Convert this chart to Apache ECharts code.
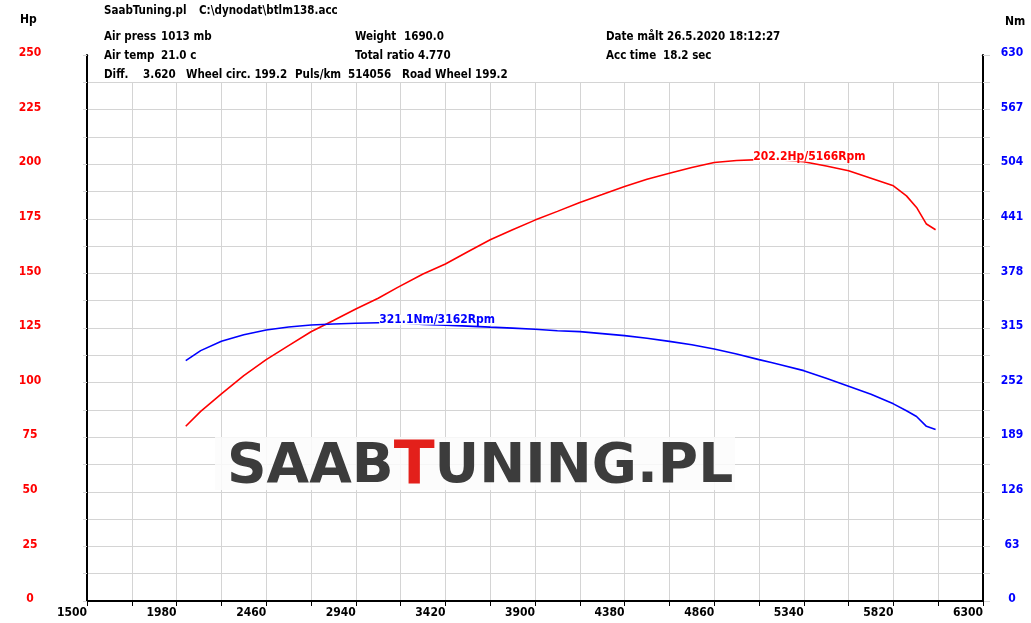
<!DOCTYPE html>
<html>
<head>
<meta charset="utf-8">
<title>SaabTuning dyno</title>
<script src="https://cdn.jsdelivr.net/npm/echarts@6/dist/echarts.min.js"></script>
<style>
  html, body { margin: 0; padding: 0; background: #fff; }
  #chart { width: 1031px; height: 623px; }
</style>
</head>
<body>
<div id="chart"></div>
<script>
  // rpm samples shared by both curves
  const rpm = [2029, 2109, 2220, 2340, 2460, 2580, 2700, 2820, 2940, 3060, 3162, 3300, 3420, 3540, 3660, 3780, 3900,
    4020, 4140, 4260, 4380, 4500, 4620, 4740, 4860, 4980, 5100, 5166, 5220, 5340, 5460, 5580, 5700, 5820,
    5890, 5944, 5997, 6046]
  const hp = [80.0, 86.8, 94.8, 103.2, 110.5, 116.9, 123.3, 128.4, 133.7, 138.6, 143.5, 149.7, 154.3, 159.9, 165.4, 170.0, 174.4,
    178.4, 182.5, 186.1, 189.8, 193.1, 195.9, 198.5, 200.8, 201.7, 202.1, 202.2, 202.0, 201.1, 199.2, 197.0, 193.6, 190.1,
    185.5, 180.2, 172.6, 170.0]
  const nm = [277.4, 288.9, 299.6, 307.3, 312.7, 316.2, 318.5, 319.6, 320.4, 321.0, 321.1, 319.0, 318.3, 317.2, 316.0, 314.9, 313.6,
    311.9, 310.8, 308.5, 306.2, 303.2, 299.6, 295.6, 290.8, 285.0, 278.5, 275.3, 272.4, 265.8, 257.0, 247.8, 238.5, 227.5,
    219.5, 212.9, 201.5, 197.8]

  const hpPeak = [5166, 202.2]
  const nmPeak = [3162, 321.1]

  const headerLines = [
    ['SaabTuning.pl', 104, 11], ['C:\\dynodat\\btlm138.acc', 199, 11],
    ['Air press', 104, 37], ['1013 mb', 161, 37], ['Weight', 355, 37], ['1690.0', 404, 37], ['Date målt 26.5.2020 18:12:27', 606, 37],
    ['Air temp', 104, 56], ['21.0 c', 161, 56], ['Total ratio 4.770', 355, 56], ['Acc time', 606, 56], ['18.2 sec', 663, 56],
    ['Diff.', 104, 75], ['3.620', 143, 75], ['Wheel circ. 199.2', 186, 75], ['Puls/km', 295, 75], ['514056', 348, 75], ['Road Wheel 199.2', 402, 75]
  ]

  const font = "'DejaVu Sans Condensed', 'DejaVu Sans', sans-serif"
  const chart = echarts.init(document.getElementById('chart'))

  let graphics = [
    // header box hides the top of the grid
    {type: 'rect', z: 5, shape: {x: 89, y: 40, width: 892, height: 42}, style: {fill: '#fff'}},
    {type: 'text', z: 6, left: 20, top: 14, style: {text: 'Hp', font: 'bold 12px ' + font, fill: '#000'}},
    {type: 'text', z: 6, left: 1005, top: 16, style: {text: 'Nm', font: 'bold 12px ' + font, fill: '#000'}},
    // logo watermark
    {type: 'rect', z: 5, shape: {x: 215, y: 437, width: 520, height: 53}, style: {fill: 'rgba(252,252,252,0.85)'}},
    {
      type: 'text', z: 6, x: 227, y: 468,
      style: {
        text: '{a|SAAB}{b|T}{a|UNING.PL}',
        verticalAlign: 'middle',
        rich: {
          a: {font: '900 55px DejaVu Sans, sans-serif', fill: '#3c3c3c'},
          b: {font: '900 60px DejaVu Sans, sans-serif', fill: '#e3201b'}
        }
      }
    }
  ]
  headerLines.forEach(h => {
    graphics.push({type: 'text', z: 6, x: h[1], y: h[2],
      style: {text: h[0], font: 'bold 11.5px ' + font, fill: '#000', verticalAlign: 'middle'}})
  })

  function peakMark(p, color, text) {
    return {
      symbol: 'circle', symbolSize: 0, silent: true,
      data: [{coord: p}],
      label: {
        show: true, position: 'right', distance: 0, offset: [-18, -3],
        formatter: text, color: color, fontFamily: font, fontWeight: 'bold', fontSize: 12,
        lineHeight: 10, backgroundColor: '#fff', padding: 0
      }
    }
  }

  const option = {
    animation: false,
    backgroundColor: '#fff',
    grid: {left: 87, right: 48, top: 55, bottom: 22},
    graphic: graphics,
    xAxis: {
      type: 'value', min: 1500, max: 6300, interval: 240,
      axisLine: {lineStyle: {color: '#000', width: 2}},
      axisTick: {show: true, length: 5, lineStyle: {color: '#000'}},
      axisLabel: {
        align: 'right', margin: 6, color: '#000', fontFamily: font, fontWeight: 'bold', fontSize: 12,
        showMinLabel: true, showMaxLabel: true,
        formatter: v => ((v - 1500) % 480 === 0 ? v : '')
      },
      splitLine: {show: true, lineStyle: {color: '#d4d4d4'}}
    },
    yAxis: [
      {
        type: 'value', min: 0, max: 250, interval: 12.5, position: 'left',
        axisLine: {show: true, lineStyle: {color: '#000', width: 2}},
        axisTick: {show: true, length: 4, lineStyle: {color: '#d4d4d4'}},
        axisLabel: {
          align: 'center', verticalAlign: 'bottom', lineHeight: 4, margin: 57,
          color: '#ff0000', fontFamily: font, fontWeight: 'bold', fontSize: 12,
          formatter: v => (v % 25 === 0 ? v : '')
        },
        splitLine: {show: true, lineStyle: {color: '#d4d4d4'}}
      },
      {
        type: 'value', min: 0, max: 630, interval: 31.5, position: 'right',
        axisLine: {show: true, lineStyle: {color: '#000', width: 2}},
        axisTick: {show: true, length: 7, lineStyle: {color: '#d4d4d4'}},
        axisLabel: {
          align: 'center', verticalAlign: 'bottom', lineHeight: 4, margin: 29,
          color: '#0000ff', fontFamily: font, fontWeight: 'bold', fontSize: 12,
          formatter: v => (Math.round(v / 31.5) % 2 === 0 ? Math.round(v) : '')
        },
        splitLine: {show: false}
      }
    ],
    series: [
      {
        name: 'Hp', type: 'line', yAxisIndex: 0, showSymbol: false, z: 3,
        data: rpm.map((r, i) => [r, hp[i]]),
        lineStyle: {color: '#ff0000', width: 1.6},
        markPoint: peakMark(hpPeak, '#ff0000', '202.2Hp/5166Rpm')
      },
      {
        name: 'Nm', type: 'line', yAxisIndex: 1, showSymbol: false, z: 3,
        data: rpm.map((r, i) => [r, nm[i]]),
        lineStyle: {color: '#0000ff', width: 1.6},
        markPoint: peakMark(nmPeak, '#0000ff', '321.1Nm/3162Rpm')
      }
    ]
  }
  chart.setOption(option)
</script>
</body>
</html>
